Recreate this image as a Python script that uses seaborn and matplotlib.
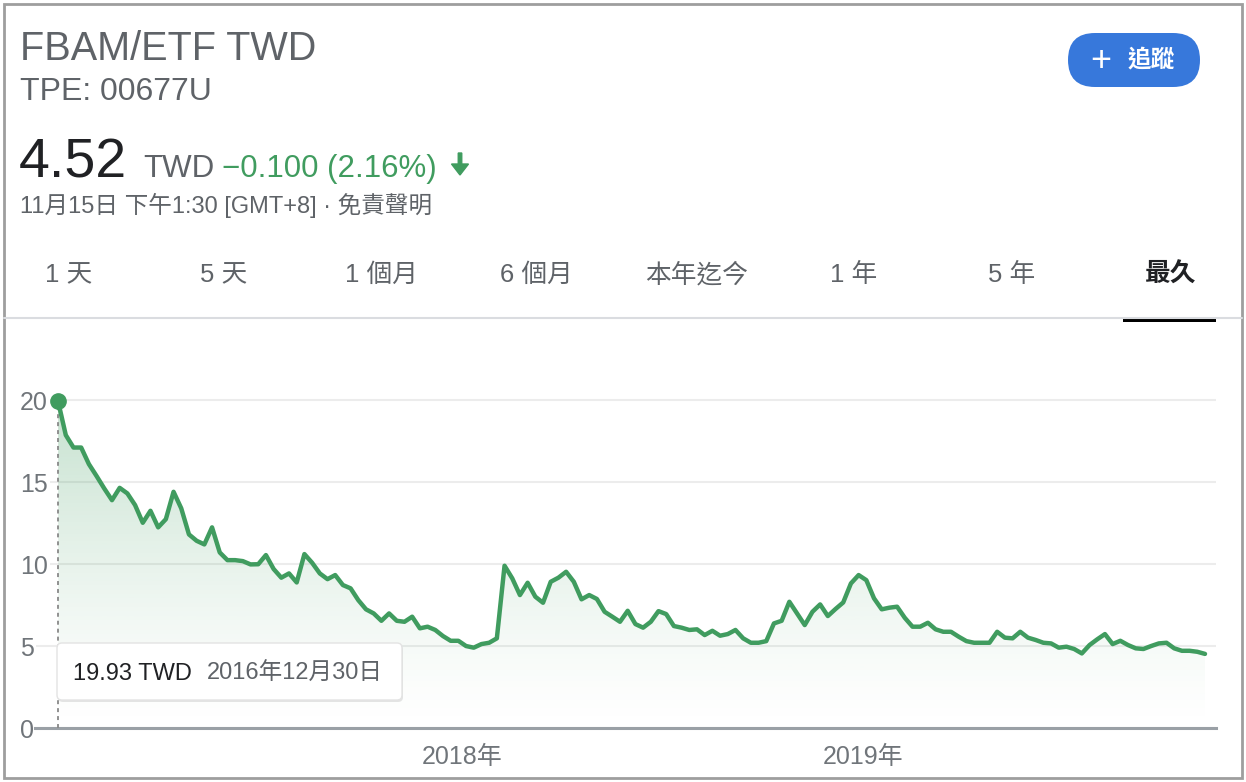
import numpy as np
import pandas as pd
import matplotlib
matplotlib.use("Agg")
import matplotlib.pyplot as plt
from matplotlib.patches import FancyBboxPatch, Rectangle
from matplotlib.colors import to_rgb
import matplotlib.dates as mdates
import seaborn as sns

# weekly closes, first point = 2016-12-30
START_DATE = "2016-12-30"
prices = [
    19.93, 17.87, 17.11, 17.11, 16.10, 15.37, 14.61, 13.90, 14.65, 14.31,
    13.60, 12.52, 13.25, 12.24, 12.74, 14.41, 13.40, 11.81, 11.42, 11.20,
    12.24, 10.71, 10.24, 10.24, 10.18, 9.98, 9.99, 10.55, 9.70, 9.17,
    9.43, 8.88, 10.61, 10.08, 9.43, 9.08, 9.33, 8.72, 8.52, 7.80,
    7.24, 6.99, 6.54, 6.99, 6.54, 6.48, 6.79, 6.08, 6.18, 5.98,
    5.61, 5.32, 5.32, 5.00, 4.90, 5.12, 5.20, 5.47, 9.90, 9.13,
    8.11, 8.86, 8.01, 7.64, 8.92, 9.17, 9.53, 8.92, 7.85, 8.11,
    7.87, 7.09, 6.79, 6.48, 7.15, 6.34, 6.12, 6.48, 7.13, 6.95,
    6.22, 6.12, 5.98, 6.02, 5.67, 5.93, 5.63, 5.73, 5.98, 5.47,
    5.20, 5.20, 5.30, 6.38, 6.54, 7.70, 6.99, 6.28, 7.09, 7.54,
    6.83, 7.26, 7.66, 8.82, 9.33, 9.02, 7.91, 7.24, 7.34, 7.40,
    6.72, 6.18, 6.18, 6.42, 6.02, 5.87, 5.87, 5.57, 5.30, 5.20,
    5.20, 5.20, 5.87, 5.51, 5.47, 5.87, 5.51, 5.37, 5.20, 5.16,
    4.90, 4.96, 4.82, 4.55, 5.06, 5.41, 5.73, 5.12, 5.32, 5.06,
    4.86, 4.82, 5.00, 5.16, 5.20, 4.86, 4.71, 4.71, 4.65, 4.52,
]
dates = pd.date_range(START_DATE, periods=len(prices), freq="7D")

y_ticks = [0, 5, 10, 15, 20]
x_ticks = ["2018-01-01", "2019-01-01"]
x_tick_labels = ["2018年", "2019年"]
tabs = ["1 天", "5 天", "1 個月", "6 個月", "本年迄今", "1 年", "5 年", "最久"]
tab_left = [45, 200, 345, 500, 645, 830, 988, 1145]

GREEN = "#409c5f"
BLUE = "#3778db"
GRAY_TXT = "#70757a"
DARK_TXT = "#5f6368"

sns.set_style("white")
plt.rcParams["font.family"] = ["Liberation Sans", "Noto Sans CJK TC", "DejaVu Sans"]

W, H = 1246, 782
fig = plt.figure(figsize=(W / 100, H / 100), dpi=100)


def fx(px):
    return px / W


def fy(py):
    return 1 - py / H


# ---- chart ----
ax = fig.add_axes([fx(35), fy(728), fx(1216) - fx(35), fy(360) - fy(728)])
ax.set_facecolor("none")
df = pd.DataFrame({"date": dates, "price": prices})

sns.lineplot(data=df, x="date", y="price", ax=ax, color=GREEN, linewidth=3.2, zorder=4)

# gradient fill under the line
poly = ax.fill_between(df["date"], df["price"], 0, facecolor="none", edgecolor="none")
xnum = mdates.date2num(df["date"])
grad = np.zeros((256, 1, 4))
grad[..., :3] = to_rgb(GREEN)
grad[..., 3] = (np.linspace(1.0, 0.0, 256) ** 1.3 * 0.30)[:, None]
im = ax.imshow(grad, aspect="auto", origin="upper",
               extent=[xnum[0], xnum[-1], 0, max(prices)], zorder=2)
im.set_clip_path(poly.get_paths()[0], transform=ax.transData)

# hover marker + dashed drop line
ax.plot([dates[0], dates[0]], [0, prices[0]], ls=(0, (2.2, 2.2)), color="#888888", lw=1.3, zorder=3)
ax.plot([dates[0]], [prices[0]], "o", ms=11, color=GREEN, zorder=5)

ax.set_xlim(dates[0] - pd.Timedelta(days=21), dates[-1] + pd.Timedelta(days=10))
ax.set_ylim(0, 22.45)
ax.set_yticks(y_ticks)
ax.set_xticks(pd.to_datetime(x_ticks))
ax.set_xticklabels(x_tick_labels)
ax.set_xlabel("")
ax.set_ylabel("")
ax.grid(axis="y", color="#ececec", lw=1.5)
ax.grid(axis="x", visible=False)
ax.set_axisbelow(True)
for s in ["top", "right", "left"]:
    ax.spines[s].set_visible(False)
ax.spines["bottom"].set_color("#9aa0a6")
ax.spines["bottom"].set_linewidth(2.2)
ax.tick_params(axis="y", length=0, pad=10.8, labelsize=18, labelcolor=GRAY_TXT)
ax.tick_params(axis="x", length=10, width=1.3, color="#9aa0a6", direction="out",
               pad=2, labelsize=18, labelcolor=GRAY_TXT)
for lbl in ax.get_yticklabels():
    lbl.set_horizontalalignment("left")
    lbl.set_bbox(dict(facecolor="white", edgecolor="none", pad=1.5))

# ---- overlay in pixel coordinates ----
ov = fig.add_axes([0, 0, 1, 1], facecolor="none")
ov.set_xlim(0, W)
ov.set_ylim(H, 0)
ov.axis("off")

ov.add_patch(Rectangle((4, 4), 1238, 774, fill=False, ec="#9e9e9e", lw=2))

ov.text(20, 60, "FBAM/ETF TWD", fontsize=28.5, color=DARK_TXT, va="baseline")
ov.text(20, 100, "TPE: 00677U", fontsize=23, color=DARK_TXT, va="baseline")
ov.text(19, 177, f"{prices[-1]:.2f}", fontsize=40, color="#202124", va="baseline")
ov.text(143, 177, "TWD", fontsize=22.5, color=DARK_TXT, va="baseline")
ov.text(222, 177, "\u22120.100 (2.16%)", fontsize=22.5, color=GREEN, va="baseline")
ov.arrow(460, 153, 0, 22, width=3.5, head_width=17, head_length=11,
         length_includes_head=True, color=GREEN)
ov.text(20, 213, "11月15日 下午1:30 [GMT+8] · 免責聲明", fontsize=17, color=DARK_TXT, va="baseline")

# follow button
ov.add_patch(FancyBboxPatch((1068, 33), 132, 54, boxstyle="round,pad=0,rounding_size=27",
                            fc=BLUE, ec="none"))
ov.text(1101, 61, "+", fontsize=26, color="white", ha="center", va="center")
ov.text(1151, 60, "追蹤", fontsize=17, color="white", ha="center", va="center", weight="bold")

# range tabs
for name, x in zip(tabs, tab_left):
    active = name == "最久"
    ov.text(x, 282, name, fontsize=18.5, va="baseline",
            color="#202124" if active else DARK_TXT,
            weight="bold" if active else "normal")
ov.plot([4, 1242], [318, 318], color="#dadce0", lw=1.5)
ov.add_patch(Rectangle((1123, 317), 93, 5, fc="black", ec="none"))

# tooltip
ov.add_patch(FancyBboxPatch((58, 645), 345, 57, boxstyle="round,pad=0,rounding_size=5",
                            fc="#000000", ec="none", alpha=0.10))
ov.add_patch(FancyBboxPatch((57, 643), 345, 57, boxstyle="round,pad=0,rounding_size=5",
                            fc="white", ec="#e3e3e3", lw=1))
d0 = dates[0]
ov.text(73, 680, f"{prices[0]:.2f} TWD", fontsize=17, color="#202124", va="baseline")
ov.text(207, 680, f"{d0.year}年{d0.month}月{d0.day}日", fontsize=17, color=DARK_TXT, va="baseline")

fig.savefig("out.png", dpi=100)
